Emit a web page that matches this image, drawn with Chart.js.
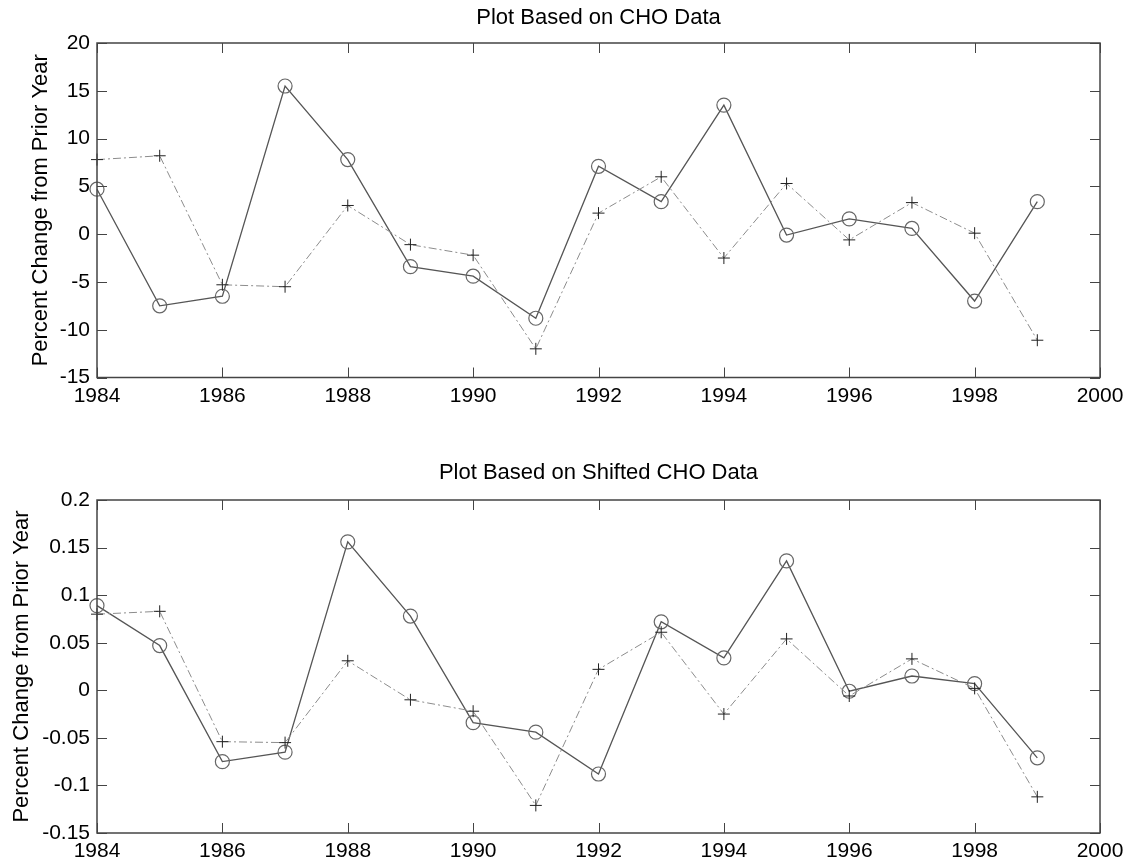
<!DOCTYPE html>
<html>
<head>
<meta charset="utf-8">
<script src="https://cdn.jsdelivr.net/npm/chart.js@4"></script>
<style>
  body { margin: 0; background: #fff; }
  canvas { position: absolute; left: 0; }
  #top { top: 0; }
  #bottom { top: 430px; }
</style>
</head>
<body>
<canvas id="top" width="1133" height="430"></canvas>
<canvas id="bottom" width="1133" height="435"></canvas>
<script>
const years = [1984, 1985, 1986, 1987, 1988, 1989, 1990, 1991, 1992, 1993, 1994, 1995, 1996, 1997, 1998, 1999];
const xTicks = [1984, 1986, 1988, 1990, 1992, 1994, 1996, 1998, 2000];

// top plot: CHO data
const choCircle = [4.7, -7.5, -6.5, 15.5, 7.8, -3.4, -4.4, -8.8, 7.1, 3.4, 13.5, -0.1, 1.6, 0.6, -7.0, 3.4];
const choPlus = [7.8, 8.2, -5.3, -5.5, 3.0, -1.1, -2.2, -12.0, 2.2, 6.0, -2.5, 5.3, -0.6, 3.3, 0.1, -11.1];
const yTicksTop = [-15, -10, -5, 0, 5, 10, 15, 20];

// bottom plot: shifted CHO data
const shiftCircle = [0.089, 0.047, -0.075, -0.065, 0.156, 0.078, -0.034, -0.044, -0.088, 0.072, 0.034, 0.136, -0.001, 0.015, 0.007, -0.071];
const shiftPlus = [0.080, 0.083, -0.054, -0.055, 0.031, -0.010, -0.022, -0.121, 0.022, 0.061, -0.025, 0.054, -0.006, 0.033, 0.002, -0.112];
const yTicksBottom = [-0.15, -0.1, -0.05, 0, 0.05, 0.1, 0.15, 0.2];

const FONT = "'Liberation Sans', Arial, sans-serif";

// box round the plot with inward tick marks, like matlab
const framePlugin = {
  id: "frame",
  afterDatasetsDraw(chart) {
    const { ctx, chartArea: a, scales: { x, y } } = chart;
    ctx.save();
    ctx.strokeStyle = "#444";
    ctx.lineWidth = 1;
    ctx.beginPath();
    x.ticks.forEach(t => {
      const px = Math.round(x.getPixelForValue(t.value)) + 0.5;
      ctx.moveTo(px, a.bottom); ctx.lineTo(px, a.bottom - 10);
      ctx.moveTo(px, a.top); ctx.lineTo(px, a.top + 10);
    });
    y.ticks.forEach(t => {
      const py = Math.round(y.getPixelForValue(t.value)) + 0.5;
      ctx.moveTo(a.left, py); ctx.lineTo(a.left + 10, py);
      ctx.moveTo(a.right, py); ctx.lineTo(a.right - 10, py);
    });
    ctx.stroke();
    ctx.lineWidth = 1.5;
    ctx.strokeRect(a.left, a.top, a.right - a.left, a.bottom - a.top);
    ctx.restore();
  }
};

function makeChart(id, title, circles, pluses, yTicks, opts) {
  const toPts = vals => vals.map((v, i) => ({ x: years[i], y: v }));
  return new Chart(document.getElementById(id), {
    type: "line",
    data: {
      datasets: [
        {
          data: toPts(pluses),
          borderColor: "#8c8c8c",
          borderWidth: 1,
          borderDash: [8, 3, 2, 3],
          pointStyle: "cross",
          pointRadius: 6,
          pointBorderColor: "#222",
          pointBorderWidth: 1,
          tension: 0,
          clip: false
        },
        {
          data: toPts(circles),
          borderColor: "#555",
          borderWidth: 1.3,
          pointStyle: "circle",
          pointRadius: 7,
          pointBackgroundColor: "rgba(0,0,0,0)",
          pointBorderColor: "#666",
          pointBorderWidth: 1.2,
          tension: 0,
          clip: false
        }
      ]
    },
    options: {
      responsive: false,
      animation: false,
      layout: { padding: { left: 0, right: 33, top: 0, bottom: 0 } },
      plugins: {
        legend: { display: false },
        tooltip: { enabled: false },
        title: {
          display: true,
          fullSize: false, // centre over the plot box, not the canvas
          text: title,
          color: "#000",
          font: { family: FONT, size: 22, weight: "normal" },
          padding: opts.titlePad
        }
      },
      scales: {
        x: {
          type: "linear",
          min: 2000 - 16,
          max: 2000,
          afterBuildTicks: s => { s.ticks = xTicks.map(v => ({ value: v })); },
          afterFit: s => { s.height = opts.xHeight; },
          grid: { display: false, drawTicks: false },
          border: { display: false },
          ticks: {
            color: "#000",
            padding: 6,
            font: { family: FONT, size: 21 },
            callback: v => String(v)
          }
        },
        y: {
          min: yTicks[0],
          max: yTicks[yTicks.length - 1],
          afterBuildTicks: s => { s.ticks = yTicks.map(v => ({ value: v })); },
          afterFit: s => { s.width = 97; },
          grid: { display: false, drawTicks: false },
          border: { display: false },
          ticks: {
            color: "#000",
            padding: 7,
            font: { family: FONT, size: 21 },
            callback: v => String(Math.round(v * 100) / 100)
          },
          title: {
            display: true,
            text: "Percent Change from Prior Year",
            color: "#000",
            font: { family: FONT, size: 22 },
            padding: { top: opts.yTitlePad, bottom: 0 }
          }
        }
      }
    },
    plugins: [framePlugin]
  });
}

makeChart("top", "Plot Based on CHO Data", choCircle, choPlus, yTicksTop,
  { titlePad: { top: 5, bottom: 11.6 }, xHeight: 52.5, yTitlePad: 28 });
makeChart("bottom", "Plot Based on Shifted CHO Data", shiftCircle, shiftPlus, yTicksBottom,
  { titlePad: { top: 30, bottom: 13.6 }, xHeight: 32, yTitlePad: 9 });
</script>
</body>
</html>
